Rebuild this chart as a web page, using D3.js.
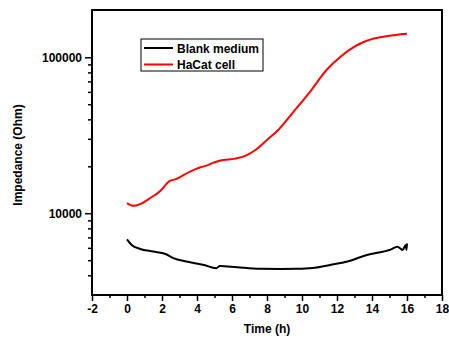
<!DOCTYPE html>
<html lang="en">
<head>
<meta charset="UTF-8">
<title>Impedance vs Time</title>
<style>
    body { margin: 0; background: #fff; }
    svg { display: block; font-family: "Liberation Sans", Arial, sans-serif; font-weight: bold; }
    .axis text { font-size: 12px; font-weight: bold; fill: #000; }
    .axis path, .axis line { stroke: #000; stroke-width: 1.5; }
</style>
</head>
<body>
<svg id="chart" width="449" height="341"></svg>
<script src="https://d3js.org/d3.v7.min.js"></script>
<script>
    // data
    const blankTime = [0, 0.27, 0.75, 1.5, 2.2, 2.65, 3.4, 4.4, 5.1, 5.3, 6.3, 7.6, 8.8, 9.7, 10.6, 11.6, 12.6, 13.7, 15.1, 15.45, 15.75, 15.93, 15.97, 16];
    const blankValue = [6800, 6250, 5900, 5680, 5480, 5150, 4900, 4660, 4440, 4590, 4500, 4400, 4390, 4400, 4450, 4660, 4900, 5400, 5870, 6100, 5820, 6250, 5820, 6400];
    const cellTime = [0, 0.36, 0.75, 1.3, 1.9, 2.45, 2.75, 3.6, 4.2, 4.65, 4.85, 5.3, 6.2, 6.75, 7.4, 8.0, 8.6, 9.5, 10.5, 11.4, 12.2, 13.0, 13.7, 14.9, 16.0];
    const cellValue = [11600, 11150, 11450, 12450, 13900, 16100, 16500, 18500, 19700, 20400, 20900, 21700, 22400, 23300, 25700, 29500, 33800, 44500, 61000, 82900, 100900, 117000, 127700, 137000, 141700];
    const xTicks = [-2, 0, 2, 4, 6, 8, 10, 12, 14, 16, 18];
    const yTicks = [10000, 100000];
    const legendLabels = ["Blank medium", "HaCat cell"];
    const seriesColors = ["#000000", "#ff0000"];

    const svg = d3.select("#chart");
    const margin = {top: 10, right: 7, bottom: 46, left: 92};
    const width = 449 - margin.left - margin.right;
    const height = 341 - margin.top - margin.bottom;
    const g = svg.append("g").attr("transform", `translate(${margin.left},${margin.top})`);

    const x = d3.scaleLinear().domain([-2, 18]).range([0, width]);
    const y = d3.scaleLog().domain([2990, 201000]).range([height, 0]);

    // minor ticks
    const xMinor = d3.range(-1, 18, 2);
    const yMinor = [4000, 5000, 6000, 7000, 8000, 9000, 20000, 30000, 40000, 50000, 60000, 70000, 80000, 90000];

    g.append("g").attr("class", "axis")
        .attr("transform", `translate(0,${height})`)
        .call(d3.axisBottom(x).tickValues(xMinor).tickSize(3).tickFormat(""))
        .select(".domain").remove();
    g.append("g").attr("class", "axis")
        .attr("transform", `translate(0,${height})`)
        .call(d3.axisBottom(x).tickValues(xTicks).tickSize(6).tickPadding(3).tickFormat(d => String(d)))
        .select(".domain").remove();

    g.append("g").attr("class", "axis")
        .call(d3.axisLeft(y).tickValues(yMinor).tickSize(4).tickFormat(""))
        .select(".domain").remove();
    g.append("g").attr("class", "axis")
        .call(d3.axisLeft(y).tickValues(yTicks).tickSize(7).tickPadding(3).tickFormat(d => String(d)))
        .select(".domain").remove();

    // frame
    g.append("rect")
        .attr("width", width).attr("height", height)
        .attr("fill", "none").attr("stroke", "#000").attr("stroke-width", 2);

    const line = d3.line().x(d => x(d[0])).y(d => y(d[1])).curve(d3.curveMonotoneX);
    const series = [
        d3.zip(blankTime, blankValue),
        d3.zip(cellTime, cellValue)
    ];
    series.forEach((pts, i) => {
        g.append("path")
            .datum(pts)
            .attr("d", line)
            .attr("fill", "none")
            .attr("stroke", seriesColors[i])
            .attr("stroke-width", 2);
    });

    // legend
    const legend = g.append("g").attr("transform", "translate(49,29)");
    legend.append("rect")
        .attr("width", 122).attr("height", 32)
        .attr("fill", "#fff").attr("stroke", "#000").attr("stroke-width", 1);
    legendLabels.forEach((label, i) => {
        const ly = 9 + i * 16.5;
        legend.append("line")
            .attr("x1", 3).attr("x2", 32).attr("y1", ly).attr("y2", ly)
            .attr("stroke", seriesColors[i]).attr("stroke-width", 2);
        legend.append("text")
            .attr("x", 36).attr("y", ly + 4.5)
            .attr("font-size", 12)
            .text(label);
    });

    // axis titles
    svg.append("text")
        .attr("x", margin.left + width / 2).attr("y", 333)
        .attr("text-anchor", "middle").attr("font-size", 12)
        .text("Time (h)");
    svg.append("text")
        .attr("transform", `translate(22,${margin.top + 145}) rotate(-90)`)
        .attr("text-anchor", "middle").attr("font-size", 12)
        .text("Impedance (Ohm)");
</script>
</body>
</html>
